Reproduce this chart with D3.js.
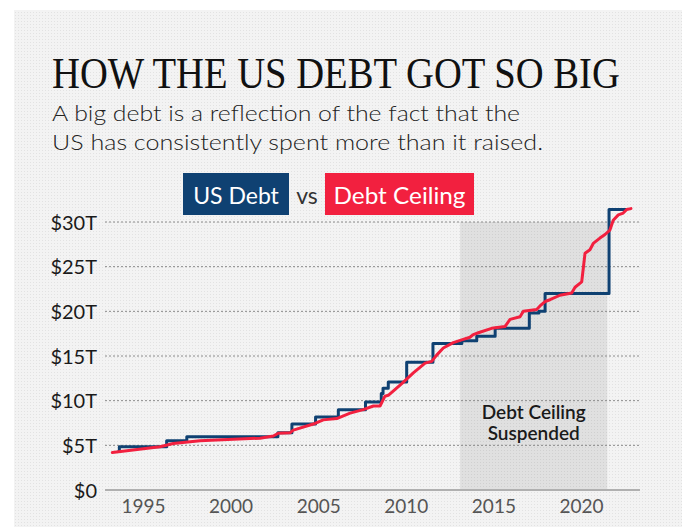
<!DOCTYPE html>
<html>
<head>
<meta charset="utf-8">
<script src="https://cdn.jsdelivr.net/npm/d3@7/dist/d3.min.js"></script>
<style>
  html, body { margin: 0; padding: 0; background: #fff; }
  svg { display: block; }
  text { font-family: Lato, "Open Sans", sans-serif; }
</style>
</head>
<body>
<svg id="chart" width="687" height="527"></svg>
<script>
'use strict';

// Debt ceiling style step series (drawn in navy, labelled "US Debt")
var stepYears = [1993.55, 1993.65, 1996.35, 1997.5, 2002.7, 2003.5, 2004.85, 2006.15, 2007.7,
    2008.6, 2008.7, 2009.0, 2010.05, 2011.55, 2013.2, 2014.05, 2015.1, 2017.05, 2017.6,
    2017.95, 2021.6, 2022.6];
var stepValues = [4.3, 4.85, 5.5, 5.95, 6.4, 7.4, 8.18, 8.97, 9.85,
    10.8, 11.4, 12.1, 14.3, 16.4, 16.7, 17.2, 18.1, 19.8, 20.0,
    22.0, 31.4, 31.4];

// Smooth series (drawn in red, labelled "Debt Ceiling")
var lineYears = [1993.25, 1995.97, 1996.73, 1998.25, 2001.68, 2002.44, 2002.72, 2003.39, 2003.58,
    2004.82, 2005.29, 2006.06, 2006.82, 2007.57, 2008.15, 2008.53, 2008.81, 2009.0, 2009.77,
    2010.43, 2011.1, 2011.48, 2011.76, 2012.14, 2012.71, 2013.19, 2013.66, 2013.85, 2014.14,
    2014.9, 2015.66, 2015.95, 2016.52, 2016.71, 2017.47, 2017.66, 2017.95, 2018.23, 2018.8,
    2019.47, 2019.66, 2020.04, 2020.23, 2020.51, 2020.7, 2021.08, 2021.37, 2021.65, 2021.84,
    2022.13, 2022.41, 2022.61, 2022.85];
var lineValues = [4.2, 4.85, 5.2, 5.5, 5.8, 6.05, 6.35, 6.4, 6.7,
    7.45, 7.85, 8.0, 8.6, 9.0, 9.4, 9.4, 10.5, 10.6, 11.9,
    13.1, 14.2, 14.4, 15.1, 15.9, 16.5, 16.8, 17.1, 17.4, 17.6,
    18.1, 18.3, 19.1, 19.4, 20.0, 20.2, 20.6, 21.1, 21.3, 21.8,
    22.05, 22.7, 23.3, 26.5, 26.9, 27.6, 28.2, 28.6, 29.1, 30.2,
    30.8, 31.0, 31.4, 31.5];

var suspended = [2013.1, 2021.5];
var yTicks = [0, 5, 10, 15, 20, 25, 30];
var yTickLabels = ['$0', '$5T', '$10T', '$15T', '$20T', '$25T', '$30T'];
var xTicks = [1995, 2000, 2005, 2010, 2015, 2020];

var navy = '#0f4172';
var red = '#f2203f';

var svg = d3.select('#chart');

// Textured background panel
var defs = svg.append('defs');
var pat = defs.append('pattern')
    .attr('id', 'dots')
    .attr('width', 3)
    .attr('height', 3)
    .attr('patternUnits', 'userSpaceOnUse');
pat.append('rect').attr('width', 3).attr('height', 3).attr('fill', '#f3f3f3');
pat.append('rect').attr('width', 1).attr('height', 1).attr('fill', '#e2e2e2');

svg.append('rect')
    .attr('x', 14).attr('y', 10)
    .attr('width', 668).attr('height', 517)
    .attr('fill', 'url(#dots)');

// Title: squeeze the serif horizontally so it reads condensed
var title = svg.append('text')
    .attr('x', 0).attr('y', 0)
    .style('font-family', '"Liberation Serif", "DejaVu Serif", serif')
    .style('font-size', '44px')
    .attr('fill', '#111')
    .text('HOW THE US DEBT GOT SO BIG');
var titleScale = 568 / title.node().getComputedTextLength();
title.attr('transform', 'translate(52,88) scale(' + titleScale + ',1)');

svg.append('text')
    .attr('x', 52).attr('y', 121)
    .attr('textLength', 468)
    .attr('lengthAdjust', 'spacingAndGlyphs')
    .style('font-size', '22px')
    .style('font-weight', 300)
    .attr('fill', '#222')
    .text('A big debt is a reflection of the fact that the');

svg.append('text')
    .attr('x', 52).attr('y', 150)
    .attr('textLength', 491)
    .attr('lengthAdjust', 'spacingAndGlyphs')
    .style('font-size', '22px')
    .style('font-weight', 300)
    .attr('fill', '#222')
    .text('US has consistently spent more than it raised.');

var x = d3.scaleLinear().domain([1995, 2020]).range([143, 581]);
var y = d3.scaleLinear().domain([0, 30]).range([490, 222]);
var plotLeft = 105, plotRight = 640;

// Suspended period shading
svg.append('rect')
    .attr('x', x(suspended[0]))
    .attr('y', y(30))
    .attr('width', x(suspended[1]) - x(suspended[0]))
    .attr('height', y(0) - y(30))
    .attr('fill', '#000')
    .attr('fill-opacity', 0.08);

svg.append('text')
    .attr('text-anchor', 'middle')
    .attr('x', (x(suspended[0]) + x(suspended[1])) / 2)
    .attr('y', 419)
    .style('font-size', '19px')
    .style('font-weight', 600)
    .attr('fill', '#1a1a1a')
    .selectAll('tspan')
    .data(['Debt Ceiling', 'Suspended'])
    .enter()
    .append('tspan')
        .attr('x', (x(suspended[0]) + x(suspended[1])) / 2)
        .attr('dy', function(d, i) {return i ? 21 : 0;})
        .text(function(d) {return d;});

// Gridlines and y labels
var yAxis = d3.axisLeft(y)
    .tickValues(yTicks)
    .tickSize(0)
    .tickPadding(8)
    .tickFormat(function(d, i) {return yTickLabels[i];});

var yG = svg.append('g')
    .attr('transform', 'translate(' + plotLeft + ',0)')
    .call(yAxis);
yG.select('.domain').remove();
yG.selectAll('text')
    .style('font-family', 'Lato, "Open Sans", sans-serif')
    .style('font-size', '20px')
    .attr('fill', '#1a1a1a')
    .attr('dy', '0.35em');

svg.append('g')
    .selectAll('line')
    .data(yTicks.filter(function(d) {return d > 0;}))
    .enter()
    .append('line')
        .attr('x1', plotLeft).attr('x2', plotRight)
        .attr('y1', function(d) {return y(d);})
        .attr('y2', function(d) {return y(d);})
        .attr('stroke', '#8a8a8a')
        .attr('stroke-width', 1)
        .attr('stroke-dasharray', '2,2');

svg.append('line')
    .attr('x1', plotLeft).attr('x2', plotRight)
    .attr('y1', y(0)).attr('y2', y(0))
    .attr('stroke', '#b0b0b0')
    .attr('stroke-width', 2);

// X axis
var xAxis = d3.axisBottom(x)
    .tickValues(xTicks)
    .tickSize(0)
    .tickPadding(10)
    .tickFormat(d3.format('d'));

var xG = svg.append('g')
    .attr('transform', 'translate(0,' + y(0) + ')')
    .call(xAxis);
xG.select('.domain').remove();
xG.selectAll('text')
    .style('font-family', 'Lato, "Open Sans", sans-serif')
    .style('font-size', '19px')
    .attr('fill', '#555');

// Series
var stepLine = d3.line()
    .x(function(d) {return x(d[0]);})
    .y(function(d) {return y(d[1]);})
    .curve(d3.curveStepAfter);

var smoothLine = d3.line()
    .x(function(d) {return x(d[0]);})
    .y(function(d) {return y(d[1]);});

svg.append('path')
    .datum(d3.zip(stepYears, stepValues))
    .attr('d', stepLine)
    .attr('fill', 'none')
    .attr('stroke', navy)
    .attr('stroke-width', 3)
    .attr('stroke-linejoin', 'round');

svg.append('path')
    .datum(d3.zip(lineYears, lineValues))
    .attr('d', smoothLine)
    .attr('fill', 'none')
    .attr('stroke', red)
    .attr('stroke-width', 3)
    .attr('stroke-linejoin', 'round')
    .attr('stroke-linecap', 'round');

// Legend
var legend = svg.append('g').attr('class', 'legend');

legend.append('rect')
    .attr('x', 183).attr('y', 173)
    .attr('width', 106).attr('height', 42)
    .attr('fill', navy);
legend.append('text')
    .attr('x', 236).attr('y', 204)
    .attr('text-anchor', 'middle')
    .style('font-size', '23px')
    .attr('fill', '#fff')
    .text('US Debt');

legend.append('text')
    .attr('x', 307).attr('y', 204)
    .attr('text-anchor', 'middle')
    .style('font-size', '23px')
    .attr('fill', '#333')
    .text('vs');

legend.append('rect')
    .attr('x', 325).attr('y', 173)
    .attr('width', 149).attr('height', 42)
    .attr('fill', red);
legend.append('text')
    .attr('x', 399.5).attr('y', 204)
    .attr('text-anchor', 'middle')
    .attr('textLength', 132)
    .attr('lengthAdjust', 'spacingAndGlyphs')
    .style('font-size', '23px')
    .attr('fill', '#fff')
    .text('Debt Ceiling');
</script>
</body>
</html>
